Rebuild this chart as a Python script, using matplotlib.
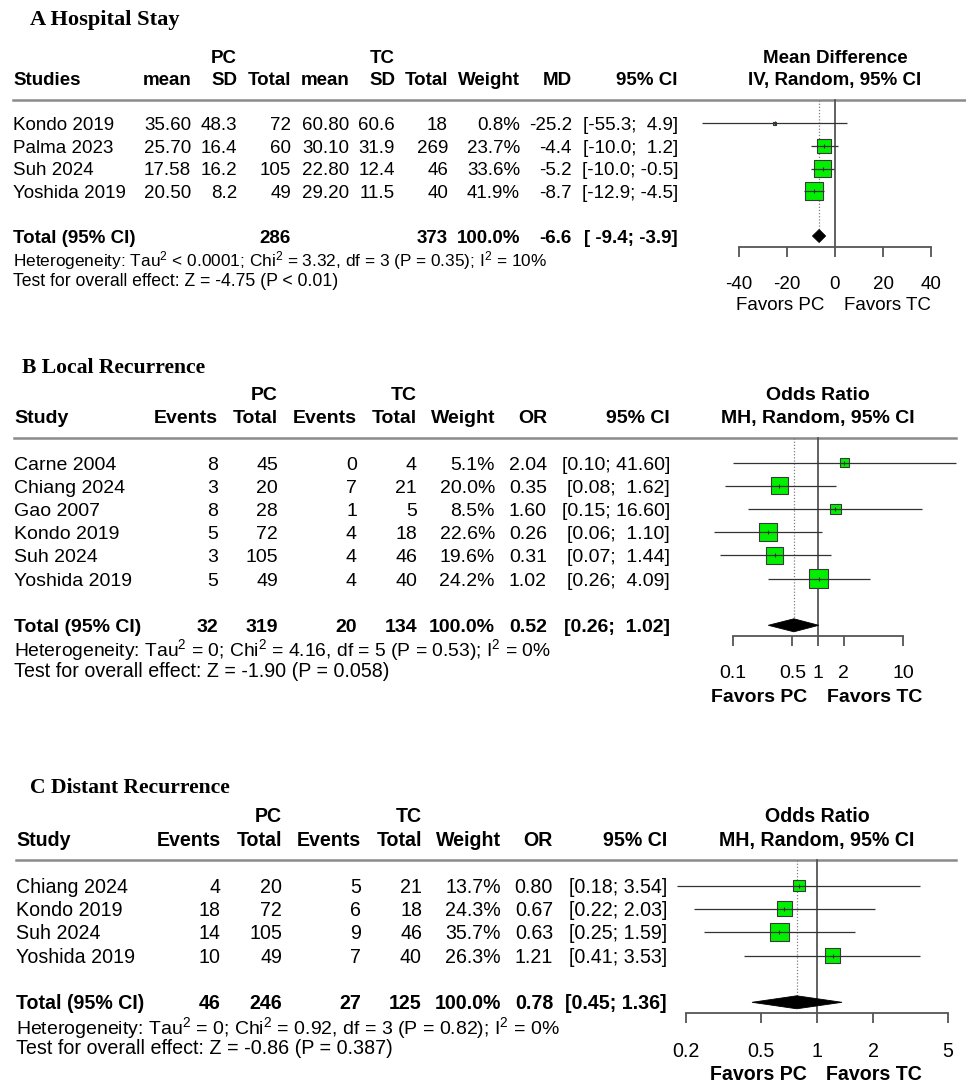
import numpy as np
import matplotlib.pyplot as plt
from matplotlib.patches import Polygon
from matplotlib.transforms import blended_transform_factory

plt.rcParams['font.family'] = ['Liberation Sans', 'DejaVu Sans']
plt.rcParams['mathtext.fontset'] = 'custom'
plt.rcParams['mathtext.rm'] = 'Liberation Sans'
plt.rcParams['mathtext.it'] = 'Liberation Sans:italic'
plt.rcParams['mathtext.bf'] = 'Liberation Sans:bold'

# ==========================================
# data: A Hospital Stay (mean difference)
# ==========================================
a_study = ["Kondo 2019", "Palma 2023", "Suh 2024", "Yoshida 2019"]
a_pc_mean = [35.60, 25.70, 17.58, 20.50]
a_pc_sd = [48.3, 16.4, 16.2, 8.2]
a_pc_n = [72, 60, 105, 49]
a_tc_mean = [60.80, 30.10, 22.80, 29.20]
a_tc_sd = [60.6, 31.9, 12.4, 11.5]
a_tc_n = [18, 269, 46, 40]
a_weight = [0.8, 23.7, 33.6, 41.9]
a_md = [-25.2, -4.4, -5.2, -8.7]
a_lo = [-55.3, -10.0, -10.0, -12.9]
a_hi = [4.9, 1.2, -0.5, -4.5]
a_pool = [-6.6, -9.4, -3.9]          # estimate, lower, upper
a_n_tot = [286, 373]
a_het = ["< 0.0001", "3.32", 3, "0.35", 10]   # tau2, chi2, df, P, I2
a_test = ["-4.75", "< 0.01"]
a_ticks = [-40, -20, 0, 20, 40]

# ==========================================
# data: B Local Recurrence (odds ratio)
# ==========================================
b_study = ["Carne 2004", "Chiang 2024", "Gao 2007", "Kondo 2019", "Suh 2024", "Yoshida 2019"]
b_pc_ev = [8, 3, 8, 5, 3, 5]
b_pc_n = [45, 20, 28, 72, 105, 49]
b_tc_ev = [0, 7, 1, 4, 4, 4]
b_tc_n = [4, 21, 5, 18, 46, 40]
b_weight = [5.1, 20.0, 8.5, 22.6, 19.6, 24.2]
b_or = [2.04, 0.35, 1.60, 0.26, 0.31, 1.02]
b_lo = [0.10, 0.08, 0.15, 0.06, 0.07, 0.26]
b_hi = [41.60, 1.62, 16.60, 1.10, 1.44, 4.09]
b_pool = [0.52, 0.26, 1.02]
b_tot = [32, 319, 20, 134]
b_het = ["= 0", "4.16", 5, "0.53", 0]
b_test = ["-1.90", "= 0.058"]
b_ticks = [0.1, 0.5, 1, 2, 10]

# ==========================================
# data: C Distant Recurrence (odds ratio)
# ==========================================
c_study = ["Chiang 2024", "Kondo 2019", "Suh 2024", "Yoshida 2019"]
c_pc_ev = [4, 18, 14, 10]
c_pc_n = [20, 72, 105, 49]
c_tc_ev = [5, 6, 9, 7]
c_tc_n = [21, 18, 46, 40]
c_weight = [13.7, 24.3, 35.7, 26.3]
c_or = [0.80, 0.67, 0.63, 1.21]
c_lo = [0.18, 0.22, 0.25, 0.41]
c_hi = [3.54, 2.03, 1.59, 3.53]
c_pool = [0.78, 0.45, 1.36]
c_tot = [46, 246, 27, 125]
c_het = ["= 0", "0.92", 3, "0.82", 0]
c_test = ["-0.86", "= 0.387"]
c_ticks = [0.2, 0.5, 1, 2, 5]

# ==========================================
# figure setup (pixel canvas)
# ==========================================
DPI = 100
W, H = 966, 1083
GREEN = "#00f000"

fig = plt.figure(figsize=(W / DPI, H / DPI), dpi=DPI)
ax0 = fig.add_axes([0, 0, 1, 1])
ax0.set_xlim(0, W)
ax0.set_ylim(H, 0)
ax0.axis("off")


def base(y, size):
    # visual centre of capitals -> baseline
    return y + 0.36 * size / 72 * DPI


def put(x, y, s, size, ha="left", bold=False):
    ax0.text(x, base(y, size), s, ha=ha, va="baseline", fontsize=size,
             fontweight="bold" if bold else "normal")


def het_text(h):
    return (f"Heterogeneity: Tau$^2$ {h[0]}; Chi$^2$ = {h[1]}, df = {h[2]} "
            f"(P = {h[3]}); I$^2$ = {h[4]}%")


def draw_table(title, title_xy, tfs, fs, het_fs, test_fs, x_study, y_h1, y_h2,
               y_rows, y_tot, y_het, y_test, line_x, y_line, cols, groups,
               study, het, test, study_hdr):
    ax0.text(title_xy[0], base(title_xy[1], tfs), title, fontsize=tfs,
             fontweight="bold", family="Liberation Serif", va="baseline")
    for x, lab in groups:
        put(x, y_h1, lab, fs, ha="right", bold=True)
    put(x_study, y_h2, study_hdr, fs, bold=True)
    for i, s in enumerate(study):
        put(x_study, y_rows[i], s, fs)
    put(x_study, y_tot, "Total (95% CI)", fs, bold=True)
    for x, hdr, vals, tot in cols:
        put(x, y_h2, hdr, fs, ha="right", bold=True)
        for i, v in enumerate(vals):
            put(x, y_rows[i], v, fs, ha="right")
        if tot:
            put(x, y_tot, tot, fs, ha="right", bold=True)
    put(x_study, y_het, het_text(het), het_fs)
    put(x_study, y_test, f"Test for overall effect: Z = {test[0]} (P {test[1]})", test_fs)
    ax0.plot(line_x, [y_line, y_line], color="#8a8a8a", lw=1.8)


def draw_forest(px, xlim, log, est, lo, hi, w, pool, ref, ticks, fs, y_rows, y_tot,
                y_line, y_axis, y_fav, fav_bold, hdr1, hdr2, y_h1, y_h2):
    ax = fig.add_axes([px[0] / W, 0, (px[1] - px[0]) / W, 1])
    ax.set_facecolor("none")
    ax.set_ylim(H, 0)
    if log:
        ax.set_xscale("log")
    ax.set_xlim(*xlim)
    ax.minorticks_off()
    for s in ["top", "left", "right"]:
        ax.spines[s].set_visible(False)
    ax.spines["bottom"].set_position(("data", y_axis))
    ax.spines["bottom"].set_color("#555555")
    ax.spines["bottom"].set_linewidth(1.3)
    ax.set_yticks([])
    ax.set_xticks(ticks)
    ax.set_xticklabels([f"{t:g}" for t in ticks])
    ax.tick_params(axis="x", length=7.5, width=1.3, color="#555555", pad=13.5,
                   labelsize=fs)

    # reference + pooled lines
    ax.plot([ref, ref], [y_line, y_axis], color="#555555", lw=1.3, zorder=1)
    ax.plot([pool[0], pool[0]], [y_line, y_tot], color="#808080", lw=0.9,
            ls=(0, (1, 1.5)), zorder=1)

    # study squares with CI
    w = np.array(w)
    side = np.maximum(18.5 * np.sqrt(w / w.max()), 3.0) * 0.72
    ax.scatter(est, y_rows, s=side ** 2, marker="s", c=GREEN,
               edgecolors="#3a3a3a", linewidths=0.8, zorder=3, clip_on=False)
    ax.hlines(y_rows, lo, hi, color="#333333", lw=0.9, zorder=4, clip_on=False)
    ax.scatter(est, y_rows, s=12, marker="|", c="#333333", linewidths=0.8,
               zorder=5, clip_on=False)

    # pooled diamond
    h = 6.5
    yt = y_tot
    dia = Polygon([(pool[1], yt), (pool[0], yt - h), (pool[2], yt), (pool[0], yt + h)],
                  closed=True, fc="black", ec="black", lw=0.6, zorder=3)
    ax.add_patch(dia)

    # headers
    tr = blended_transform_factory(ax.transAxes, ax.transData)
    ax.text(0.5, base(y_h1, fs), hdr1, transform=tr, ha="center", va="baseline",
            fontsize=fs, fontweight="bold")
    ax.text(0.5, base(y_h2, fs), hdr2, transform=tr, ha="center", va="baseline",
            fontsize=fs, fontweight="bold")

    # favours labels
    fw = "bold" if fav_bold else "normal"
    ax.annotate("Favors PC", xy=(ref, base(y_fav, fs)), xytext=(-7.5, 0),
                textcoords="offset points", ha="right", va="baseline",
                fontsize=fs, fontweight=fw)
    ax.annotate("Favors TC", xy=(ref, base(y_fav, fs)), xytext=(6.8, 0),
                textcoords="offset points", ha="left", va="baseline",
                fontsize=fs, fontweight=fw)
    return ax


# ==========================================
# Panel A
# ==========================================
a_rows = [123.3, 146.0, 168.5, 191.0]
draw_table("A Hospital Stay", (30, 17), 16.1, 13.5, 12.4, 12.7, 13, 56, 78.3,
           a_rows, 236, 260, 279.3, [13, 966], 100,
           [(191, "mean", [f"{v:.2f}" for v in a_pc_mean], ""),
            (237, "SD", [f"{v:.1f}" for v in a_pc_sd], ""),
            (291, "Total", [str(v) for v in a_pc_n], str(a_n_tot[0])),
            (349, "mean", [f"{v:.2f}" for v in a_tc_mean], ""),
            (395, "SD", [f"{v:.1f}" for v in a_tc_sd], ""),
            (448, "Total", [str(v) for v in a_tc_n], str(a_n_tot[1])),
            (520, "Weight", [f"{v:.1f}%" for v in a_weight], "100.0%"),
            (572, "MD", [f"{v:.1f}" for v in a_md], f"{a_pool[0]:.1f}"),
            (678, "95% CI", [f"[{l:5.1f}; {u:4.1f}]" for l, u in zip(a_lo, a_hi)],
             f"[{a_pool[1]:5.1f}; {a_pool[2]:4.1f}]")],
           [(237, "PC"), (395, "TC")], a_study, a_het, a_test, "Studies")
draw_forest((739, 931), (-40, 40), False, a_md, a_lo, a_hi, a_weight, a_pool, 0,
            a_ticks, 13.5, a_rows, 236, 100, 247, 303, False,
            "Mean Difference", "IV, Random, 95% CI", 56, 78.3)

# ==========================================
# Panel B
# ==========================================
b_rows = [462.7, 485.8, 509.0, 532.0, 555.2, 578.7]
draw_table("B Local Recurrence", (22, 365), 15.6, 14.0, 13.9, 14.1, 14, 392.7, 415.7,
           b_rows, 625.3, 649.5, 670.0, [14, 956], 438,
           [(218, "Events", [str(v) for v in b_pc_ev], str(b_tot[0])),
            (278, "Total", [str(v) for v in b_pc_n], str(b_tot[1])),
            (357, "Events", [str(v) for v in b_tc_ev], str(b_tot[2])),
            (417, "Total", [str(v) for v in b_tc_n], str(b_tot[3])),
            (495, "Weight", [f"{v:.1f}%" for v in b_weight], "100.0%"),
            (547, "OR", [f"{v:.2f}" for v in b_or], f"{b_pool[0]:.2f}"),
            (670, "95% CI", [f"[{l:.2f}; {u:5.2f}]" for l, u in zip(b_lo, b_hi)],
             f"[{b_pool[1]:.2f}; {b_pool[2]:5.2f}]")],
           [(278, "PC"), (417, "TC")], b_study, b_het, b_test, "Study")
draw_forest((733, 903), (0.1, 10), True, b_or, b_lo, b_hi, b_weight, b_pool, 1,
            b_ticks, 14.0, b_rows, 625.3, 438, 636, 695, True,
            "Odds Ratio", "MH, Random, 95% CI", 392.7, 415.7)

# ==========================================
# Panel C
# ==========================================
c_rows = [885.7, 908.7, 932.0, 955.5]
draw_table("C Distant Recurrence", (30, 785), 15.6, 14.1, 14.0, 14.2, 16, 815, 839,
           c_rows, 1002.3, 1027.0, 1047.0, [16, 956], 860,
           [(221, "Events", [str(v) for v in c_pc_ev], str(c_tot[0])),
            (282, "Total", [str(v) for v in c_pc_n], str(c_tot[1])),
            (361, "Events", [str(v) for v in c_tc_ev], str(c_tot[2])),
            (422, "Total", [str(v) for v in c_tc_n], str(c_tot[3])),
            (501, "Weight", [f"{v:.1f}%" for v in c_weight], "100.0%"),
            (553, "OR", [f"{v:.2f}" for v in c_or], f"{c_pool[0]:.2f}"),
            (667, "95% CI", [f"[{l:.2f}; {u:.2f}]" for l, u in zip(c_lo, c_hi)],
             f"[{c_pool[1]:.2f}; {c_pool[2]:.2f}]")],
           [(282, "PC"), (422, "TC")], c_study, c_het, c_test, "Study")
draw_forest((686, 948), (0.2, 5), True, c_or, c_lo, c_hi, c_weight, c_pool, 1,
            c_ticks, 14.1, c_rows, 1002.3, 860, 1013, 1073, True,
            "Odds Ratio", "MH, Random, 95% CI", 815, 839)

fig.savefig("out.png", dpi=DPI)
